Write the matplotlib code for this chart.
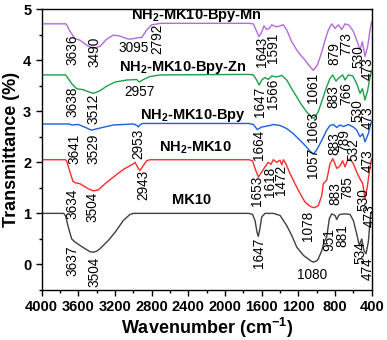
import matplotlib
matplotlib.use("Agg")
import matplotlib.pyplot as plt
from matplotlib.ticker import MultipleLocator

plt.rcParams['font.family'] = ['Liberation Sans', 'DejaVu Sans']
plt.rcParams['mathtext.fontset'] = 'custom'
plt.rcParams['mathtext.rm'] = 'Liberation Sans:bold'
plt.rcParams['mathtext.bf'] = 'Liberation Sans:bold'
plt.rcParams['mathtext.default'] = 'bf'

# ---------------- data (wavenumber, transmittance) ----------------
mk10 = [(4000, 1.0), (3760, 1.0), (3740, 0.95), (3710, 0.73), (3673, 0.50), (3637, 0.44),
        (3564, 0.35), (3473, 0.25), (3437, 0.24), (3400, 0.26), (3364, 0.31), (3273, 0.47),
        (3200, 0.63), (3110, 0.86), (3037, 0.98), (3000, 1.0), (1740, 1.0), (1700, 0.98),
        (1673, 0.86), (1650, 0.62), (1637, 0.55), (1620, 0.70), (1600, 0.93), (1564, 1.0),
        (1473, 1.0), (1400, 0.96), (1327, 0.76), (1273, 0.57), (1218, 0.34), (1146, 0.18),
        (1073, 0.08), (1037, 0.045), (1000, 0.07), (983, 0.11), (945, 0.27), (920, 0.44),
        (891, 0.54), (862, 0.90), (836, 0.99), (800, 0.96), (782, 0.88), (760, 0.96),
        (746, 0.98), (691, 0.99), (637, 0.98), (600, 0.86), (564, 0.60), (535, 0.37),
        (509, 0.50), (484, 0.27), (462, 0.21), (437, 0.44), (411, 1.0), (400, 1.0)]

nh2_mk10 = [(4000, 2.05), (3740, 2.05), (3727, 2.02), (3690, 1.80), (3660, 1.63), (3637, 1.60),
            (3582, 1.58), (3491, 1.48), (3437, 1.44), (3382, 1.46), (3309, 1.58), (3219, 1.71),
            (3110, 1.86), (3000, 1.97), (2982, 2.0), (2946, 1.88), (2928, 1.84), (2898, 1.92),
            (2855, 2.03), (2820, 2.05), (1740, 2.05), (1700, 2.03), (1673, 1.88), (1637, 1.71),
            (1600, 1.81), (1564, 1.91), (1528, 2.0), (1500, 1.96), (1473, 2.05), (1437, 2.0),
            (1400, 2.04), (1382, 1.95), (1364, 2.05), (1336, 1.97), (1291, 1.78), (1237, 1.58),
            (1182, 1.39), (1127, 1.22), (1073, 1.14), (1029, 1.11), (983, 1.15), (945, 1.35),
            (928, 1.58), (891, 1.65), (855, 1.97), (825, 2.07), (800, 1.97), (782, 1.88),
            (746, 1.93), (717, 2.03), (691, 1.91), (666, 2.03), (637, 2.07), (600, 1.97),
            (564, 1.81), (538, 1.71), (520, 1.65), (498, 1.58), (473, 1.29), (448, 1.52),
            (418, 1.91), (400, 2.07)]

nh2_mk10_bpy = [(4000, 2.75), (3700, 2.75), (3673, 2.73), (3600, 2.74), (3520, 2.68), (3473, 2.64),
                (3455, 2.63), (3364, 2.67), (3219, 2.73), (3000, 2.75), (2960, 2.72), (2946, 2.69),
                (2930, 2.73), (2900, 2.76), (1740, 2.76), (1690, 2.74), (1648, 2.64), (1600, 2.69),
                (1510, 2.72), (1473, 2.74), (1400, 2.72), (1327, 2.66), (1255, 2.56), (1182, 2.43),
                (1127, 2.33), (1073, 2.22), (1037, 2.16), (1000, 2.24), (945, 2.43), (891, 2.63),
                (855, 2.72), (818, 2.74), (782, 2.68), (746, 2.73), (709, 2.70), (655, 2.74),
                (600, 2.69), (564, 2.63), (527, 2.50), (498, 2.56), (473, 2.40), (437, 2.56),
                (410, 2.76), (400, 2.80)]

nh2_mk10_bpy_zn = [(4000, 3.71), (3740, 3.71), (3727, 3.68), (3673, 3.54), (3618, 3.44), (3546, 3.42),
                   (3491, 3.38), (3437, 3.35), (3364, 3.40), (3291, 3.49), (3200, 3.57), (3073, 3.61),
                   (2964, 3.62), (2935, 3.57), (2891, 3.62), (2818, 3.68), (2700, 3.71), (1740, 3.72),
                   (1691, 3.71), (1655, 3.61), (1627, 3.51), (1600, 3.61), (1564, 3.66), (1528, 3.62),
                   (1491, 3.69), (1437, 3.67), (1382, 3.70), (1327, 3.61), (1273, 3.44), (1218, 3.28),
                   (1164, 3.12), (1110, 2.99), (1055, 2.88), (1029, 2.86), (983, 2.99), (928, 3.28),
                   (891, 3.48), (855, 3.64), (825, 3.71), (790, 3.59), (753, 3.66), (717, 3.71),
                   (691, 3.61), (655, 3.71), (607, 3.69), (564, 3.54), (527, 3.35), (502, 3.44),
                   (473, 3.22), (444, 3.41), (418, 3.68), (400, 3.80)]

nh2_mk10_bpy_mn = [(4000, 4.71), (3740, 4.71), (3727, 4.69), (3691, 4.56), (3637, 4.42), (3582, 4.39),
                   (3509, 4.29), (3437, 4.23), (3364, 4.27), (3291, 4.41), (3219, 4.49), (3146, 4.47),
                   (3055, 4.41), (3000, 4.42), (2946, 4.44), (2909, 4.44), (2855, 4.59), (2800, 4.69),
                   (2700, 4.72), (1740, 4.72), (1691, 4.71), (1662, 4.59), (1630, 4.46), (1600, 4.55),
                   (1575, 4.67), (1546, 4.60), (1518, 4.62), (1491, 4.69), (1437, 4.65), (1364, 4.69),
                   (1327, 4.59), (1273, 4.36), (1218, 4.20), (1164, 4.07), (1127, 4.00), (1073, 3.87),
                   (1037, 3.80), (993, 3.90), (945, 4.16), (909, 4.39), (873, 4.59), (836, 4.71),
                   (800, 4.62), (764, 4.69), (727, 4.60), (691, 4.71), (645, 4.68), (600, 4.56),
                   (564, 4.39), (527, 4.20), (502, 4.36), (473, 4.07), (444, 4.27), (418, 4.59),
                   (400, 4.75)]

series_names = [r'MK10', r'NH$_2$-MK10', r'NH$_2$-MK10-Bpy', r'NH$_2$-MK10-Bpy-Zn', r'NH$_2$-MK10-Bpy-Mn']
series_data = [mk10, nh2_mk10, nh2_mk10_bpy, nh2_mk10_bpy_zn, nh2_mk10_bpy_mn]
series_colors = ['#404040', '#ff2a2a', '#1a5fdc', '#1f9e4a', '#b36ae2']
name_pos = [(2360, 1.27), (2327, 2.29), (2349, 2.92), (2459, 3.86), (2317, 4.88)]

# peak labels: (text, x, y, rotation)
peak_labels = [
    # Mn
    ('3636', 3669, 4.20, 90), ('3490', 3419, 4.16, 90), ('3095', 2993, 4.235, 0), ('2792', 2742, 4.41, 90),
    ('1643', 1597, 4.16, 90), ('1591', 1477, 4.235, 90), ('1061', 1040, 3.45, 90), ('879', 811, 4.12, 90),
    ('773', 680, 4.33, 90), ('530', 545, 4.06, 90), ('473', 445, 3.84, 90),
    # Zn
    ('3638', 3659, 3.18, 90), ('3512', 3440, 3.04, 90), ('2957', 2928, 3.37, 0), ('1647', 1619, 3.18, 90),
    ('1566', 1477, 3.35, 90), ('1063', 1040, 2.69, 90), ('883', 822, 3.29, 90), ('766', 680, 3.35, 90),
    ('530', 560, 3.02, 90), ('473', 445, 2.88, 90),
    # Bpy
    ('3641', 3637, 2.27, 90), ('3529', 3440, 2.27, 90), ('2953', 2949, 2.37, 90), ('1664', 1629, 2.35, 90),
    ('1057', 1040, 1.98, 90), ('883', 811, 2.37, 90), ('789', 702, 2.43, 90), ('532', 604, 2.24, 90),
    ('473', 445, 2.04, 90),
    # NH2-MK10
    ('3634', 3659, 1.18, 90), ('3504', 3451, 1.12, 90), ('2943', 2895, 1.55, 90), ('1653', 1651, 1.45, 90),
    ('1618', 1505, 1.61, 90), ('1472', 1395, 1.65, 90), ('1078', 1095, 0.76, 90), ('883', 800, 1.39, 90),
    ('785', 669, 1.51, 90), ('530', 490, 1.26, 90), ('473', 425, 0.96, 90),
    # MK10
    ('3637', 3669, 0.08, 90), ('3504', 3429, -0.14, 90), ('1647', 1629, 0.22, 90), ('1080', 1051, -0.20, 0),
    ('951', 866, 0.49, 90), ('881', 724, 0.57, 90), ('534', 528, 0.235, 90), ('474', 440, -0.08, 90),
]

x_ticks = [4000, 3600, 3200, 2800, 2400, 2000, 1600, 1200, 800, 400]
y_ticks = [0, 1, 2, 3, 4, 5]

# ---------------- plot ----------------
fig = plt.figure(figsize=(3.87, 3.4), dpi=100)
ax = fig.add_axes([0.1078, 0.147, 0.8527, 0.8265])

for data, color in zip(series_data, series_colors):
    wn = [p[0] for p in data]
    tr = [p[1] for p in data]
    ax.plot(wn, tr, color=color, lw=1.0)

for name, (nx, ny) in zip(series_names, name_pos):
    ax.text(nx, ny, name, fontsize=10.5, fontweight='bold', ha='center', va='center')

for txt, px, py, rot in peak_labels:
    ax.text(px, py, txt, fontsize=9.8, rotation=rot, ha='center', va='center', color='black')

ax.set_xlim(4000, 400)
ax.set_ylim(-0.5, 5)
ax.set_xticks(x_ticks)
ax.set_yticks(y_ticks)
ax.xaxis.set_minor_locator(MultipleLocator(200))
ax.yaxis.set_minor_locator(MultipleLocator(0.5))
ax.tick_params(which='major', direction='out', length=4, width=1, labelsize=10.5)
ax.tick_params(which='minor', direction='out', length=2, width=1)
for lab in ax.get_xticklabels() + ax.get_yticklabels():
    lab.set_fontweight('bold')
for s in ax.spines.values():
    s.set_linewidth(1.0)

ax.set_xlabel(r'Wavenumber (cm$^{-1}$)', fontsize=13, fontweight='bold', labelpad=1)
ax.set_ylabel('Transmittance (%)', fontsize=13, fontweight='bold', labelpad=2)

fig.savefig('out.png', dpi=100)
